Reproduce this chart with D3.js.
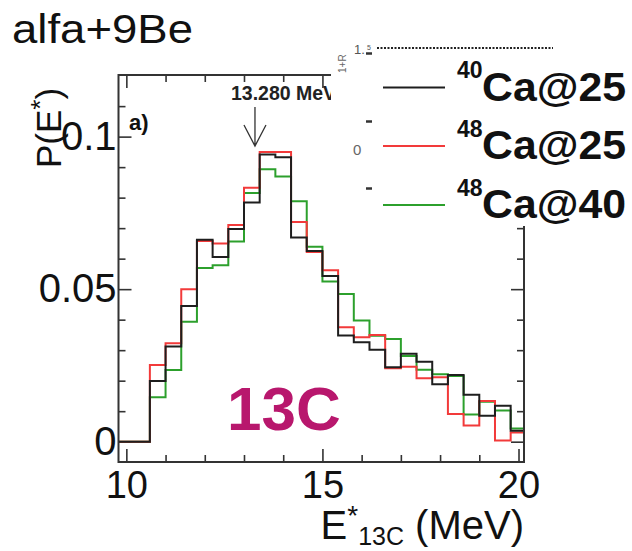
<!DOCTYPE html>
<html>
<head>
<meta charset="utf-8">
<script src="https://cdn.jsdelivr.net/npm/d3@7/dist/d3.min.js"></script>
<style>
  html, body { margin: 0; padding: 0; background: #fff; }
  svg { display: block; }
  text { font-family: "Liberation Sans", Arial, Helvetica, sans-serif; }
</style>
</head>
<body>
<svg id="chart" width="632" height="551"></svg>
<script>
// Bin left edges (MeV), bin width 0.4 MeV
const binLeft = [9.8, 10.2, 10.6, 11.0, 11.4, 11.8, 12.2, 12.6, 13.0, 13.4, 13.8, 14.2, 14.6,
                 15.0, 15.4, 15.8, 16.2, 16.6, 17.0, 17.4, 17.8, 18.2, 18.6, 19.0, 19.4, 19.8];
const binWidth = 0.4;

// P(E*) per bin for each reaction
const ca40at25 = [0, 0, 0.0199, 0.0312, 0.0445, 0.0662, 0.0605, 0.0697, 0.0784, 0.0941, 0.0932, 0.0669, 0.0625,
                  0.0543, 0.0348, 0.0326, 0.0301, 0.0244, 0.0288, 0.0262, 0.0188, 0.0219, 0.0154, 0.0085, 0.0118, 0.0036];
const ca48at25 = [0, 0, 0.0251, 0.0323, 0.0500, 0.0658, 0.0650, 0.0710, 0.0832, 0.0950, 0.0950, 0.0720, 0.0622,
                  0.0562, 0.0375, 0.0342, 0.0350, 0.0241, 0.0246, 0.0208, 0.0211, 0.0091, 0.0053, 0.0133, 0.0004, 0.0030];
const ca48at40 = [0, 0, 0.0146, 0.0235, 0.0393, 0.0569, 0.0578, 0.0656, 0.0815, 0.0893, 0.0869, 0.0788, 0.0639,
                  0.0525, 0.0484, 0.0397, 0.0347, 0.0337, 0.0281, 0.0236, 0.0221, 0.0215, 0.0089, 0.0131, 0.0102, 0.0043];

const xMajorTicks = [10, 15, 20];
const xMinorTicks = [11, 12, 13, 14, 16, 17, 18, 19];
const yMajorTicks = [0, 0.05, 0.1];
const yMinorTicks = [0.01, 0.02, 0.03, 0.04, 0.06, 0.07, 0.08, 0.09, 0.11];
const yTickLabels = ["0", "0.05", "0.1"];

const markerEnergy = 13.280;
const series = [
  { mass: "48", label: "Ca@40", color: "#2ca02c", values: ca48at40 },
  { mass: "48", label: "Ca@25", color: "#f23a3a", values: ca48at25 },
  { mass: "40", label: "Ca@25", color: "#1e1e1e", values: ca40at25 }
];
const legendOrder = [2, 1, 0];

const svg = d3.select("#chart");
const frame = { left: 118.5, right: 524, top: 75, bottom: 462 };

const x = d3.scaleLinear().domain([9.8, 20.14]).range([frame.left, frame.right]);
const y = d3.scaleLinear().domain([-0.00666, 0.1202]).range([frame.bottom, frame.top]);

// Title
svg.append("text").attr("x", 12).attr("y", 43)
  .attr("font-size", 40).attr("fill", "#111")
  .attr("textLength", 181).attr("lengthAdjust", "spacingAndGlyphs")
  .text("alfa+9Be");

// Clip for histogram lines
svg.append("defs").append("clipPath").attr("id", "plotClip")
  .append("rect").attr("x", frame.left).attr("y", frame.top)
  .attr("width", frame.right - frame.left).attr("height", frame.bottom - frame.top);

// Axes: major and minor ticks on all four sides
const tickColor = "#333";
function styleAxis(g) {
  g.select(".domain").remove();
  g.selectAll(".tick line").attr("stroke", tickColor).attr("stroke-width", 1.6);
}

svg.append("g").attr("transform", `translate(0,${frame.bottom})`)
  .call(d3.axisBottom(x).tickValues(xMinorTicks).tickSize(-7).tickFormat(""))
  .call(styleAxis);
svg.append("g").attr("transform", `translate(0,${frame.bottom})`)
  .call(d3.axisBottom(x).tickValues(xMajorTicks).tickSize(-13).tickPadding(9).tickFormat(d3.format("d")))
  .call(styleAxis)
  .call(g => g.selectAll(".tick text").attr("font-size", 38).attr("fill", "#111")
    .attr("font-family", "Liberation Sans, Arial, sans-serif"));

svg.append("g").attr("transform", `translate(0,${frame.top})`)
  .call(d3.axisTop(x).tickValues(xMinorTicks).tickSize(-7).tickFormat(""))
  .call(styleAxis);
svg.append("g").attr("transform", `translate(0,${frame.top})`)
  .call(d3.axisTop(x).tickValues(xMajorTicks).tickSize(-13).tickFormat(""))
  .call(styleAxis);

svg.append("g").attr("transform", `translate(${frame.left},0)`)
  .call(d3.axisLeft(y).tickValues(yMinorTicks).tickSize(-7).tickFormat(""))
  .call(styleAxis);
svg.append("g").attr("transform", `translate(${frame.left},0)`)
  .call(d3.axisLeft(y).tickValues(yMajorTicks).tickSize(-13).tickPadding(2)
    .tickFormat((d, i) => yTickLabels[i]))
  .call(styleAxis)
  .call(g => g.selectAll(".tick text").attr("font-size", 40).attr("fill", "#111")
    .attr("font-family", "Liberation Sans, Arial, sans-serif"));

svg.append("g").attr("transform", `translate(${frame.right},0)`)
  .call(d3.axisRight(y).tickValues(yMinorTicks).tickSize(-7).tickFormat(""))
  .call(styleAxis);
svg.append("g").attr("transform", `translate(${frame.right},0)`)
  .call(d3.axisRight(y).tickValues(yMajorTicks).tickSize(-13).tickFormat(""))
  .call(styleAxis);

// Histograms drawn as step outlines
const stepLine = d3.line().x(d => x(d[0])).y(d => y(d[1]));
function stepPoints(values) {
  const pts = [];
  values.forEach((v, i) => {
    pts.push([binLeft[i], v]);
    pts.push([binLeft[i] + binWidth, v]);
  });
  return pts;
}
const hist = svg.append("g").attr("clip-path", "url(#plotClip)");
series.forEach(s => {
  hist.append("path")
    .attr("d", stepLine(stepPoints(s.values)))
    .attr("fill", "none").attr("stroke", s.color).attr("stroke-width", 2);
});

// Frame
svg.append("rect")
  .attr("x", frame.left).attr("y", frame.top)
  .attr("width", frame.right - frame.left).attr("height", frame.bottom - frame.top)
  .attr("fill", "none").attr("stroke", "#333").attr("stroke-width", 2);

// Panel tag
svg.append("text").attr("x", 129).attr("y", 130)
  .attr("font-size", 22).attr("font-weight", "bold").attr("fill", "#111").text("a)");

// Marker arrow at the state energy
const ax = x(markerEnergy);
svg.append("text").attr("x", ax - 24).attr("y", 100)
  .attr("font-size", 19.5).attr("font-weight", "bold").attr("fill", "#222")
  .text("13.280 MeV");
svg.append("path")
  .attr("d", `M${ax},107 L${ax},146 M${ax - 11},125 L${ax},146 L${ax + 11},125`)
  .attr("fill", "none").attr("stroke", "#333").attr("stroke-width", 1.3);

// Nucleus label
svg.append("text").attr("x", 227).attr("y", 430)
  .attr("font-size", 62).attr("font-weight", "bold").attr("fill", "#b8176d").text("13C");

// Axis titles
const yTitle = svg.append("text")
  .attr("transform", "translate(61,168) rotate(-90)")
  .attr("font-size", 35).attr("fill", "#111");
yTitle.append("tspan").text("P(E");
yTitle.append("tspan").attr("font-size", 26).attr("dy", -12).text("*");
yTitle.append("tspan").attr("dy", 12).text(")");

const xTitle = svg.append("text").attr("x", 524).attr("y", 539)
  .attr("text-anchor", "end").attr("font-size", 40).attr("fill", "#111");
xTitle.append("tspan").text("E");
xTitle.append("tspan").attr("font-size", 28).attr("dy", -14).text("*");
xTitle.append("tspan").attr("font-size", 25).attr("dy", 20).text("13C");
xTitle.append("tspan").attr("dy", -6).text(" (MeV)");

// Legend box (covers the upper-right corner of the frame)
const lg = svg.append("g");
lg.append("rect").attr("x", 331).attr("y", 28).attr("width", 301).attr("height", 198).attr("fill", "#fff");

// Residual ratio-pad annotations inside the legend area
lg.append("text").attr("transform", "translate(346,73) rotate(-90)")
  .attr("font-size", 10).attr("fill", "#666").text("1+R");
lg.append("text").attr("x", 354).attr("y", 54).attr("font-size", 13).attr("fill", "#555").text("1.");
lg.append("text").attr("x", 367).attr("y", 50).attr("font-size", 7).attr("fill", "#555").text("5");
lg.append("line").attr("x1", 377).attr("x2", 553).attr("y1", 48).attr("y2", 48)
  .attr("stroke", "#222").attr("stroke-width", 2).attr("stroke-dasharray", "2,1.5");
lg.append("text").attr("x", 353).attr("y", 155).attr("font-size", 15).attr("fill", "#666").text("0");
[53.5, 121.5, 188.5].forEach(yy => {
  lg.append("line").attr("x1", 366).attr("x2", 372).attr("y1", yy).attr("y2", yy)
    .attr("stroke", "#333").attr("stroke-width", 2.5);
});

const legendRows = [87.5, 146, 205];
legendOrder.forEach((si, k) => {
  const s = series[si];
  const ly = legendRows[k];
  lg.append("line").attr("x1", 383).attr("x2", 445).attr("y1", ly).attr("y2", ly)
    .attr("stroke", s.color).attr("stroke-width", 2.2);
  lg.append("text").attr("x", 457).attr("y", ly - 9.5)
    .attr("font-size", 23).attr("font-weight", "bold").attr("fill", "#111").text(s.mass);
  lg.append("text").attr("x", 482).attr("y", ly + 13)
    .attr("font-size", 40).attr("font-weight", "bold").attr("fill", "#111")
    .attr("textLength", 144).attr("lengthAdjust", "spacingAndGlyphs")
    .text(s.label);
});
</script>
</body>
</html>
